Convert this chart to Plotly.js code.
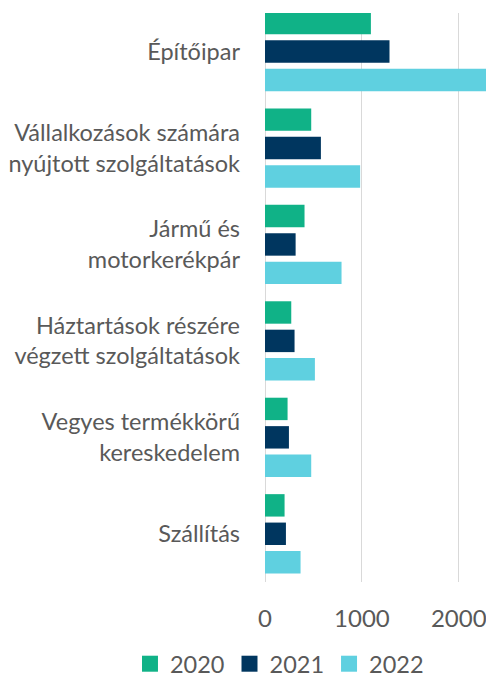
<!DOCTYPE html>
<html>
<head>
<meta charset="utf-8">
<script src="https://cdn.plot.ly/plotly-3.0.1.min.js"></script>
<style>html,body{margin:0;padding:0;background:#fff;}#chart{width:486px;height:677px;}</style>
</head>
<body>
<div id="chart"></div>
<script>
const categories = [
  "Építőipar",
  "Vállalkozások számára<br>nyújtott szolgáltatások",
  "Jármű és<br>motorkerékpár",
  "Háztartások részére<br>végzett szolgáltatások",
  "Vegyes termékkörű<br>kereskedelem",
  "Szállítás"
];
const seriesNames = ["2020", "2021", "2022"];
const values2020 = [1093, 477, 408, 271, 233, 202];
const values2021 = [1285, 577, 316, 305, 247, 216];
const values2022 = [2400, 982, 790, 515, 477, 367];
const xTicks = [0, 1000, 2000];

const colors = ["#10B287", "#00365F", "#5FD0E0"];
const allValues = [values2020, values2021, values2022];
const FONT = "Lato, 'Open Sans', sans-serif";
const TXT = "#595959";
const FS = 24;

const traces = [];
allValues.forEach((vals, i) => {
  traces.push({
    type: "bar",
    orientation: "h",
    x: vals,
    y: categories,
    name: seriesNames[i],
    marker: {color: colors[i]},
    showlegend: false,
    hoverinfo: "x+name"
  });
});
seriesNames.forEach((n, i) => {
  traces.push({
    type: "scatter",
    mode: "markers",
    x: [null],
    y: [null],
    name: n,
    marker: {symbol: "square", size: 16, color: colors[i]},
    showlegend: true,
    hoverinfo: "skip"
  });
});

const layout = {
  width: 486,
  height: 677,
  margin: {l: 265, r: 0, t: 13, b: 95, autoexpand: false},
  paper_bgcolor: "#fff",
  plot_bgcolor: "#fff",
  barmode: "group",
  bargap: 0.116,
  bargroupgap: 0.211,
  font: {family: FONT, size: FS, color: TXT},
  xaxis: {
    range: [0, 2281],
    tickvals: xTicks,
    ticktext: xTicks.map(String),
    showgrid: true,
    gridcolor: "#D9D9D9",
    gridwidth: 1,
    zeroline: true,
    zerolinecolor: "#D9D9D9",
    zerolinewidth: 1,
    showline: false,
    ticks: "",
    ticklabelstandoff: 20,
    ticklabeloverflow: "allow",
    tickfont: {family: FONT, size: FS, color: TXT},
    automargin: false,
    fixedrange: true
  },
  yaxis: {
    type: "category",
    range: [5.5, -0.4],
    showgrid: false,
    zeroline: false,
    showline: false,
    ticks: "",
    ticklabelstandoff: 24,
    tickfont: {family: FONT, size: 23.5, color: TXT},
    automargin: false,
    fixedrange: true
  },
  showlegend: true,
  legend: {
    orientation: "h",
    x: -0.611,
    xanchor: "left",
    y: -0.144,
    yanchor: "middle",
    font: {family: FONT, size: 23.5, color: TXT},
    bgcolor: "rgba(0,0,0,0)"
  }
};

Plotly.newPlot("chart", traces, layout, {displayModeBar: false, staticPlot: true});
</script>
</body>
</html>
